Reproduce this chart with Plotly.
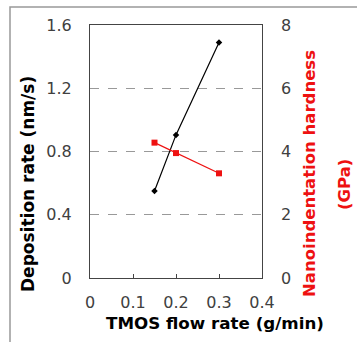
import plotly.graph_objects as go

tmos_flow = [0.15, 0.2, 0.3]
deposition_rate = [0.55, 0.905, 1.49]
hardness = [4.28, 3.95, 3.31]

x_ticks = [0, 0.1, 0.2, 0.3, 0.4]
y1_ticks = [0, 0.4, 0.8, 1.2, 1.6]
y2_ticks = [0, 2, 4, 6, 8]

W, H = 357, 342
L, R, T, B = 90, 95, 25, 64
pw, ph = W - L - R, H - T - B

def px(x):
    return (x - L) / pw

def py(y):
    return (H - B - y) / ph

font = "DejaVu Sans, Verdana, sans-serif"
tick_font = dict(family=font, size=16, color="#404040")

fig = go.Figure()
fig.add_trace(go.Scatter(
    x=tmos_flow, y=deposition_rate, mode="lines+markers",
    line=dict(color="black", width=1.2),
    marker=dict(symbol="diamond", size=5, color="black"),
    yaxis="y", showlegend=False))
fig.add_trace(go.Scatter(
    x=tmos_flow, y=hardness, mode="lines+markers",
    line=dict(color="#ee1111", width=1.2),
    marker=dict(symbol="square", size=6, color="#ee1111"),
    yaxis="y2", showlegend=False))

annos = [
    dict(text="<b>Deposition rate (nm/s)</b>", x=px(28), y=py(184), textangle=-90,
         font=dict(family=font, size=17, color="black")),
    dict(text="<b>TMOS flow rate (g/min)</b>", x=px(215), y=py(323),
         font=dict(family=font, size=16.7, color="black")),
    dict(text="<b>Nanoindentation hardness</b>", x=px(310), y=py(174), textangle=-90,
         font=dict(family=font, size=16.5, color="#ee1111")),
    dict(text="<b>(GPa)</b>", x=px(344), y=py(185), textangle=-90,
         font=dict(family=font, size=16.5, color="#ee1111")),
]
for a in annos:
    a.update(xref="paper", yref="paper", xanchor="center", yanchor="middle",
             showarrow=False)

fig.update_layout(
    width=W, height=H,
    margin=dict(l=L, r=R, t=T, b=B),
    paper_bgcolor="white", plot_bgcolor="white",
    font=dict(family=font, size=16, color="#404040"),
    xaxis=dict(
        range=[0, 0.4], tickvals=x_ticks, ticktext=[str(v) for v in x_ticks],
        tickfont=tick_font,
        showgrid=False, zeroline=False, showline=True, linecolor="#444444",
        linewidth=1, mirror=True, ticks="inside", ticklen=4, tickcolor="#444444",
        ticklabelstandoff=10,
    ),
    yaxis=dict(
        range=[0, 1.6], tickvals=y1_ticks, ticktext=["0", "0.4", "0.8", "1.2", "1.6"],
        tickfont=tick_font,
        showgrid=True, gridcolor="#999999", griddash="dash", gridwidth=1,
        zeroline=False, showline=True, linecolor="#444444", linewidth=1,
        mirror=True, ticks="", ticklabelstandoff=14,
    ),
    yaxis2=dict(
        range=[0, 8], tickvals=y2_ticks, ticktext=[str(v) for v in y2_ticks],
        tickfont=tick_font,
        overlaying="y", side="right", showgrid=False, zeroline=False,
        showline=False, ticks="", ticklabelstandoff=18,
    ),
    annotations=annos,
    shapes=[dict(type="rect", xref="paper", yref="paper",
                 x0=px(10), x1=px(W + 5), y0=py(H + 5), y1=py(7),
                 line=dict(color="#999999", width=1.5), layer="below")],
)

fig.write_html("out.html")
